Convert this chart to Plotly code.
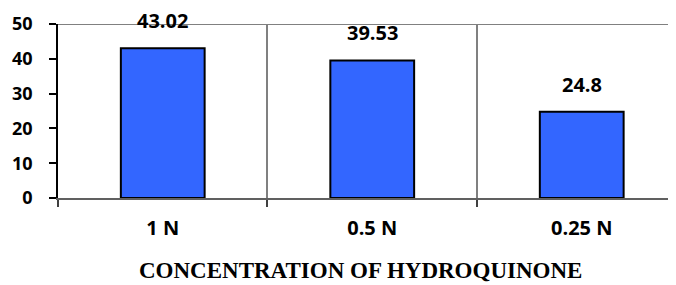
import plotly.graph_objects as go

categories = ["1 N", "0.5 N", "0.25 N"]
values = [43.02, 39.53, 24.8]
value_labels = ["43.02", "39.53", "24.8"]
x_title = "CONCENTRATION OF HYDROQUINONE"

# page body has an 8px margin; figure is sized/positioned to compensate
W, H = 668, 277
L, T, B = 50, 16, 87
PW, PH = W - L, H - T - B

fig = go.Figure()
fig.add_trace(go.Bar(
    x=categories, y=values, width=0.4,
    marker=dict(color="#3366FF", line=dict(color="black", width=2)),
    cliponaxis=False,
))

for c, v, t in zip(categories, values, value_labels):
    fig.add_annotation(x=c, y=v, text=t, showarrow=False, yanchor="bottom", yshift=12,
                       font=dict(family="Open Sans", size=20, color="black", weight="bold"))

fig.add_shape(type="line", xref="paper", x0=0, x1=1, yref="y", y0=50, y1=50,
              line=dict(color="#808080", width=2), layer="below")

fig.add_annotation(xref="paper", yref="paper", x=(352 - L) / PW, y=-(262 - (T + PH)) / PH,
                   text=x_title, showarrow=False, xanchor="center", yanchor="middle",
                   font=dict(family="Liberation Serif", size=23, color="black", weight="bold"))

fig.update_layout(
    width=W, height=H,
    margin=dict(l=L, r=0, t=T, b=B, autoexpand=False),
    plot_bgcolor="white", paper_bgcolor="white",
    showlegend=False,
)
fig.update_xaxes(
    type="category", range=[-0.5, 2.45], tickson="boundaries",
    showgrid=True, gridcolor="#808080", gridwidth=1.5,
    showline=True, linecolor="#606060", linewidth=2,
    ticks="outside", ticklen=7, tickcolor="#404040", tickwidth=1.5,
    tickfont=dict(family="Open Sans", size=20, color="black", weight="bold"),
    ticklabelstandoff=11,
)
fig.update_yaxes(
    range=[0, 50], dtick=10, showgrid=False, zeroline=False,
    showline=True, linecolor="black", linewidth=1.5,
    ticks="outside", ticklen=7, tickcolor="black", tickwidth=1.5,
    tickfont=dict(family="Open Sans", size=18, color="black", weight="bold"),
    ticklabelstandoff=13,
)

fig.write_html("out.html")
